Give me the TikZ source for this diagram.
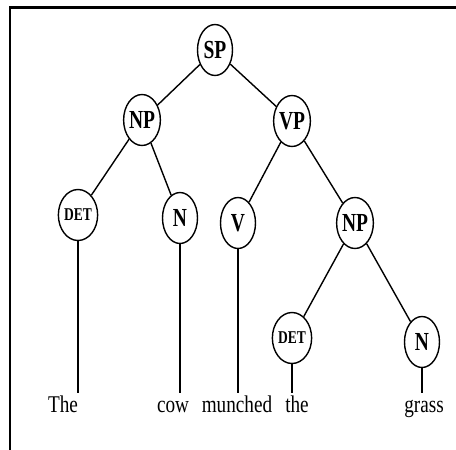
\documentclass[tikz,border=0pt]{standalone}
\usepackage{fontspec}
\newfontfamily\catfont[FakeStretch=0.75]{Liberation Serif}
\newfontfamily\wordfont[FakeStretch=0.8]{Liberation Serif}
\usetikzlibrary{shapes.geometric}

\begin{document}
\begin{tikzpicture}[x=1pt,y=-1pt,line width=1.4pt,
  cat/.style={draw,ellipse,minimum width=35pt,minimum height=51pt,inner sep=0pt,
    font=\catfont\bfseries\fontsize{26}{26}\selectfont},
  small/.style={font=\catfont\bfseries\fontsize{18}{18}\selectfont},
  word/.style={anchor=base,inner sep=1pt,text height=17pt,
    font=\wordfont\fontsize{24}{24}\selectfont}]
\useasboundingbox (0,0) rectangle (456,450);
\draw[line width=2.2pt] (10,450)--(10,7.5)--(456,7.5);
% categories
\node[cat] (sp) at (215,50) {SP};
\node[cat] (np1) at (142,120) {NP};
\node[cat] (vp) at (292,121) {VP};
\node[cat,small] (det1) at (78,215) {DET};
\node[cat] (n1) at (180,218) {N};
\node[cat] (v) at (238,223) {V};
\node[cat] (np2) at (355,223) {NP};
\node[cat,small] (det2) at (292,338) {DET};
\node[cat] (n2) at (422,342) {N};
% words
\node[word] (the1) at (63,412) {The};
\node[word] (cow) at (173,412) {cow};
\node[word] (munched) at (237,412) {munched};
\node[word] (the2) at (297,412) {the};
\node[word] (grass) at (424,412) {grass};
% branches
\draw (sp)--(np1);
\draw (sp)--(vp);
\draw (np1)--(det1);
\draw (np1)--(n1);
\draw (vp)--(v);
\draw (vp)--(np2);
\draw (np2)--(det2);
\draw (np2)--(n2);
\draw (det1)--(det1 |- the1.north);
\draw (n1)--(n1 |- cow.north);
\draw (v)--(v |- munched.north);
\draw (det2)--(det2 |- the2.north);
\draw (n2)--(n2 |- grass.north);
\end{tikzpicture}
\end{document}
